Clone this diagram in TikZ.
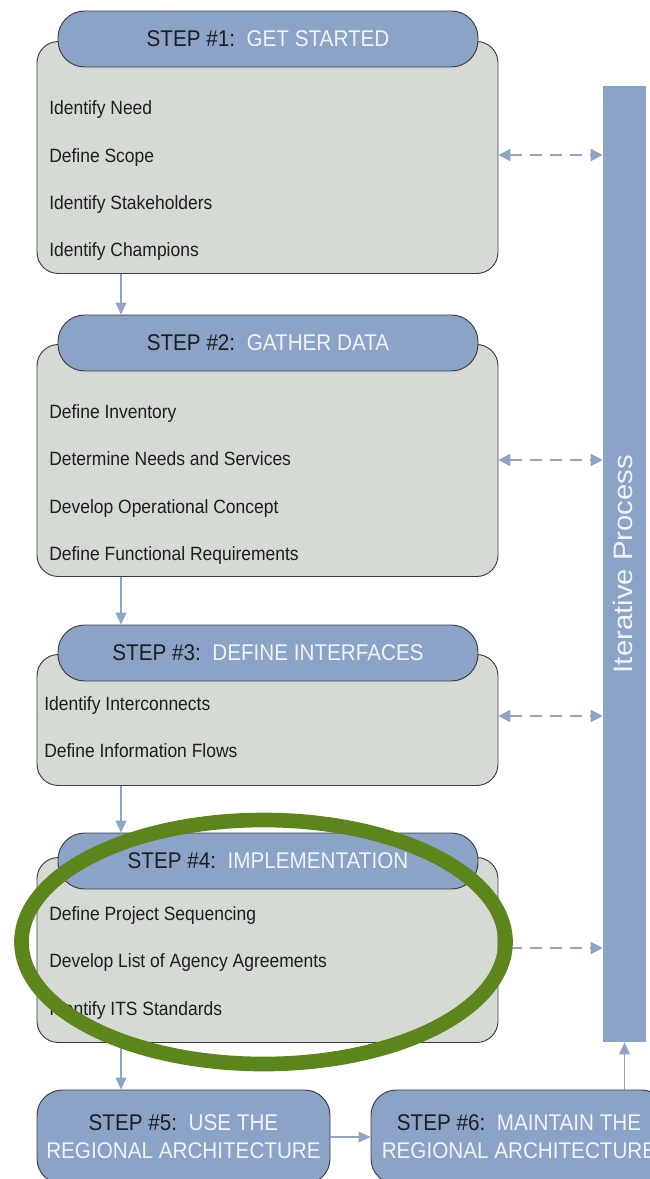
\documentclass[tikz,border=0pt]{standalone}
\usepackage{fontspec}
\usepackage{graphicx}
\setmainfont{Liberation Sans}
\usetikzlibrary{arrows.meta,calc}

\definecolor{hdrblue}{RGB}{139,163,198}
\definecolor{bodygray}{RGB}{213,218,212}
\definecolor{edge}{RGB}{60,60,60}
\definecolor{flowblue}{RGB}{141,164,197}
\definecolor{txtdark}{RGB}{30,30,30}
\definecolor{txtlight}{RGB}{240,243,248}
\definecolor{ringgreen}{RGB}{92,133,28}

% slightly tall lettering
\newcommand{\tallify}[1]{\scalebox{1}[1.1]{#1}}
\newcommand{\stephead}[2]{\tallify{\textcolor{txtdark}{STEP \##1:}\hspace{0.56em}\textcolor{txtlight}{#2}}}

\tikzset{
  bodybox/.style={draw=edge, line width=0.7pt, fill=bodygray, rounded corners=16pt,
    minimum width=345.75pt, inner sep=0pt},
  hdrbox/.style={draw=edge, line width=0.7pt, fill=hdrblue, rounded corners=20pt,
    minimum width=315pt, minimum height=42pt, inner sep=0pt,
    font=\fontsize{15.5}{18}\selectfont},
  finalbox/.style={draw=edge, line width=0.7pt, fill=hdrblue, rounded corners=19pt,
    minimum height=70.5pt, inner sep=0pt, align=center,
    font=\fontsize{15.5}{21}\selectfont},
  item/.style={anchor=base west, inner sep=0pt, text=txtdark,
    font=\fontsize{13.1}{15}\selectfont},
  flow/.style={draw=flowblue, line width=1.4pt, -{Triangle[length=9pt,width=8pt]}},
  iterlink/.style={draw=flowblue, line width=1.5pt, dash pattern=on 9pt off 6pt,
    {Triangle[length=9pt,width=9pt]}-{Triangle[length=9pt,width=9pt]}},
  iterbar/.style={fill=hdrblue, draw=none, minimum width=32.25pt, minimum height=717pt,
    inner sep=0pt},
  ring/.style={draw=ringgreen, line width=11pt}
}

\begin{document}
\begin{tikzpicture}[x=0.75pt,y=-0.75pt]
\useasboundingbox (0,0) rectangle (650,1179);
\clip (0,0) rectangle (650,1179);

% guide coordinates
\coordinate (ax) at (121,0);
\coordinate (r1) at (0,155);
\coordinate (r2) at (0,460);
\coordinate (r3) at (0,716);
\coordinate (r4) at (0,948);

% step bodies
\node[bodybox, minimum height=174pt]    (b1) at (267.5,157.5) {};
\node[bodybox, minimum height=174pt]    (b2) at (267.5,460.5) {};
\node[bodybox, minimum height=98.25pt]  (b3) at (267.5,720) {};
\node[bodybox, minimum height=138.75pt] (b4) at (267.5,950) {};

% step headers
\node[hdrbox] (h1) at (268,39)  {\stephead{1}{GET STARTED}};
\node[hdrbox] (h2) at (268,343) {\stephead{2}{GATHER DATA}};
\node[hdrbox] (h3) at (268,653) {\stephead{3}{DEFINE INTERFACES}};
\node[hdrbox] (h4) at (268,861) {\stephead{4}{IMPLEMENTATION}};

% step 1 tasks
\node[item] (t11) at (49,114) {\tallify{Identify Need}};
\node[item] (t12) at (49,162) {\tallify{Define Scope}};
\node[item] (t13) at (49,209) {\tallify{Identify Stakeholders}};
\node[item] (t14) at (49,256) {\tallify{Identify Champions}};
% step 2 tasks
\node[item] (t21) at (49,418) {\tallify{Define Inventory}};
\node[item] (t22) at (49,465) {\tallify{Determine Needs and Services}};
\node[item] (t23) at (49,513) {\tallify{Develop Operational Concept}};
\node[item] (t24) at (49,560) {\tallify{Define Functional Requirements}};
% step 3 tasks
\node[item] (t31) at (44,710) {\tallify{Identify Interconnects}};
\node[item] (t32) at (44,757) {\tallify{Define Information Flows}};
% step 4 tasks
\node[item] (t41) at (49,920)  {\tallify{Define Project Sequencing}};
\node[item] (t42) at (49,967)  {\tallify{Develop List of Agency Agreements}};
\node[item] (t43) at (49,1015) {\tallify{Identify ITS Standards}};

% final steps
\node[finalbox, minimum width=219.75pt] (s5) at (183.5,1137)
  {\tallify{\textcolor{txtdark}{STEP \#5:}\hspace{0.56em}\textcolor{txtlight}{USE THE}}\\
   \tallify{\textcolor{txtlight}{REGIONAL ARCHITECTURE}}};
\node[finalbox, minimum width=222pt] (s6) at (519,1137)
  {\tallify{\textcolor{txtdark}{STEP \#6:}\hspace{0.56em}\textcolor{txtlight}{MAINTAIN THE}}\\
   \tallify{\textcolor{txtlight}{REGIONAL ARCHITECTURE}}};

% iterative process bar
\node[iterbar] (bar) at (624.5,564) {};
\node[rotate=90, inner sep=0pt, text=txtlight, font=\fontsize{20}{24}\selectfont]
  (barlbl) at (623,564) {\scalebox{1.1}[1]{Iterative Process}};

% step-to-step flow
\draw[flow] (b1.south -| ax) -- (h2.north -| ax);
\draw[flow] (b2.south -| ax) -- (h3.north -| ax);
\draw[flow] (b3.south -| ax) -- (h4.north -| ax);
\draw[flow] (b4.south -| ax) -- (s5.north -| ax);
\draw[flow] (s5.east) -- (s6.west);
\draw[flow] (bar.south |- s6.north) -- (bar.south);

% iteration links
\draw[iterlink] (b1.east |- r1) -- (bar.west |- r1);
\draw[iterlink] (b2.east |- r2) -- (bar.west |- r2);
\draw[iterlink] (b3.east |- r3) -- (bar.west |- r3);
\draw[iterlink] (b4.east |- r4) -- (bar.west |- r4);

% highlight ring round step 4
\draw[ring] (263.5,942) ellipse [x radius=242, y radius=122];
\end{tikzpicture}
\end{document}
